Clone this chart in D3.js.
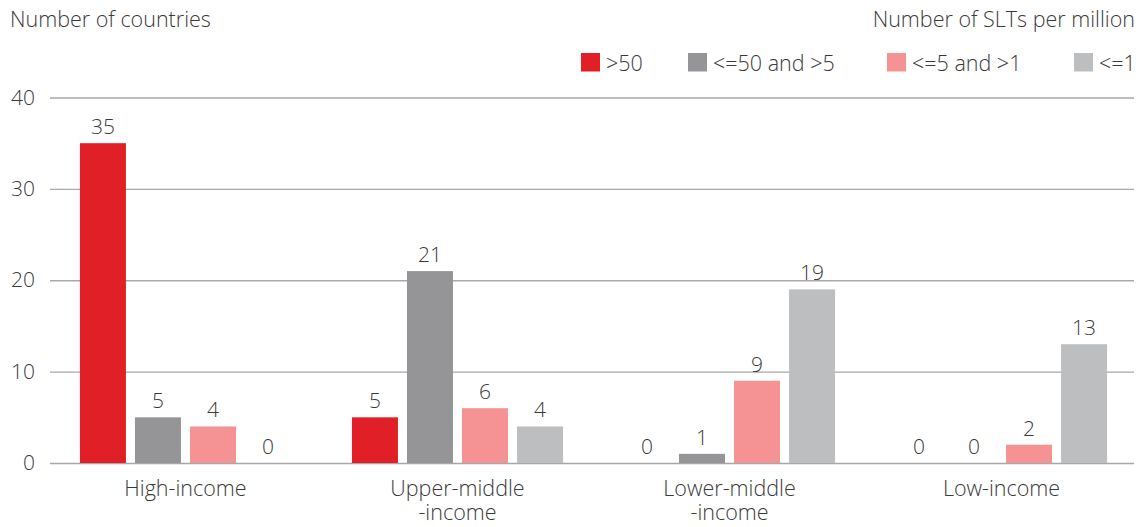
<!DOCTYPE html>
<html>
<head>
<meta charset="utf-8">
<script src="https://cdn.jsdelivr.net/npm/d3@7/dist/d3.min.js"></script>
<style>
  body { margin: 0; background: #fff; }
  svg text { font-family: "Open Sans", sans-serif; font-weight: 300; fill: #3a3a3a; }
</style>
</head>
<body>
<div class="chart"></div>
<script>
var categories = ["High-income", "Upper-middle\n-income", "Lower-middle\n-income", "Low-income"];
var seriesNames = [">50", "<=50 and >5", "<=5 and >1", "<=1"];
var seriesColors = ["#e01f26", "#959597", "#f59294", "#bdbec0"];
// values per series, one entry per income group
var gt50 = [35, 5, 0, 0];
var from5to50 = [5, 21, 1, 0];
var from1to5 = [4, 6, 9, 2];
var upTo1 = [0, 4, 19, 13];
var yTicks = [0, 10, 20, 30, 40];

var series = [gt50, from5to50, from1to5, upTo1];

var width = 1142, height = 527;
var margin = {top: 97.5, bottom: 463, left: 50, right: 1134};
var fontSize = "21px";

var svg = d3.select(".chart").append("svg")
    .attr("width", width)
    .attr("height", height);

var x0 = d3.scaleBand()
    .domain(categories)
    .range([margin.left, 1137])
    .paddingInner(0.224)
    .paddingOuter(0.11);

var x1 = d3.scaleBand()
    .domain(d3.range(seriesNames.length))
    .range([0, x0.bandwidth()])
    .paddingInner(0.164)
    .paddingOuter(0);

var y = d3.scaleLinear()
    .domain([0, 40])
    .range([margin.bottom, margin.top]);

// gridlines + y labels
var yAxis = svg.append("g")
    .attr("class", "axis axis--y")
    .attr("transform", `translate(${margin.left}, 0)`)
    .call(d3.axisLeft(y).tickValues(yTicks).tickSize(-(margin.right - margin.left)).tickPadding(15));
yAxis.select(".domain").remove();
yAxis.selectAll(".tick line").attr("stroke", "#a8a8a8").attr("stroke-width", 1.3);
yAxis.selectAll(".tick text")
    .attr("font-size", fontSize)
    .attr("font-family", null)
    .style("fill", "#3a3a3a");

// bars
var groups = svg.selectAll(".group")
    .data(categories)
    .enter().append("g")
    .attr("class", "group")
    .attr("transform", d => `translate(${x0(d)}, 0)`);

groups.each(function(cat, ci) {
  var g = d3.select(this);
  var rows = series.map((s, si) => ({si: si, v: s[ci]}));
  g.selectAll("rect")
    .data(rows.filter(r => r.v > 0))
    .enter().append("rect")
    .attr("x", r => x1(r.si))
    .attr("y", r => y(r.v))
    .attr("width", x1.bandwidth())
    .attr("height", r => y(0) - y(r.v))
    .attr("fill", r => seriesColors[r.si]);
  g.selectAll("text")
    .data(rows)
    .enter().append("text")
    .attr("x", r => x1(r.si) + x1.bandwidth() / 2)
    .attr("y", r => y(r.v) - 9)
    .attr("text-anchor", "middle")
    .attr("font-size", fontSize)
    .text(r => r.v);
});

// category labels, two lines where needed
svg.selectAll(".cat")
    .data(categories)
    .enter().append("text")
    .attr("class", "cat")
    .attr("text-anchor", "middle")
    .attr("font-size", "21.5px")
    .attr("transform", d => `translate(${x0(d) + x0.bandwidth() / 2}, 496)`)
    .selectAll("tspan")
    .data(d => d.split("\n"))
    .enter().append("tspan")
    .attr("x", 0)
    .attr("y", (d, i) => i * 24)
    .text(d => d);

// titles
svg.append("text")
    .attr("x", 10)
    .attr("y", 27)
    .attr("font-size", "21.5px")
    .text("Number of countries");

svg.append("text")
    .attr("x", 1135)
    .attr("y", 27)
    .attr("text-anchor", "end")
    .attr("font-size", "21.5px")
    .text("Number of SLTs per million");

// legend
var legendX = [581, 688, 887, 1074];
var legend = svg.selectAll(".legend")
    .data(seriesNames)
    .enter().append("g")
    .attr("class", "legend")
    .attr("transform", (d, i) => `translate(${legendX[i]}, 53)`);
legend.append("rect")
    .attr("width", 19)
    .attr("height", 18.5)
    .attr("fill", (d, i) => seriesColors[i]);
legend.append("text")
    .attr("x", 25)
    .attr("y", 18)
    .attr("font-size", "21.5px")
    .text(d => d);
</script>
</body>
</html>
